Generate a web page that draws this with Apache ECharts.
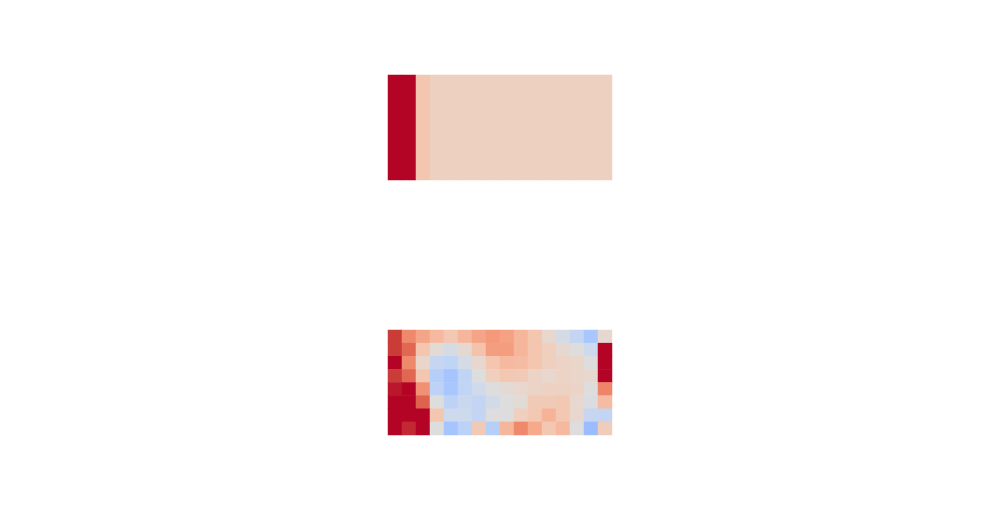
<!DOCTYPE html>
<html>
<head>
<meta charset="utf-8">
<script src="https://cdn.jsdelivr.net/npm/echarts@6/dist/echarts.min.js"></script>
<style>
  html, body { margin: 0; padding: 0; background: #fff; }
  #chart { width: 999px; height: 510px; }
</style>
</head>
<body>
<div id="chart"></div>
<script>
// значения, шкала -1..1 (coolwarm)
const columns = ['0', '1', '2', '3', '4', '5', '6', '7', '8', '9', '10', '11', '12', '13', '14', '15'];
const topRows = ['0'];
const bottomRows = ['0', '1', '2', '3', '4', '5', '6', '7'];

const topValues = [
    [1.3, 1.3, 0.24, 0.15, 0.15, 0.15, 0.15, 0.15, 0.15, 0.15, 0.15, 0.15, 0.15, 0.15, 0.15, 0.15]
];

const bottomValues = [
    [0.88, 0.58, 0.44, 0.32, 0.22, 0.34, 0.44, 0.50, 0.46, 0.34, 0.24, 0.08, -0.06, -0.18, -0.34, 0.06],
    [0.88, 0.72, 0.24, 0.04, -0.06, 0.06, 0.26, 0.48, 0.48, 0.34, 0.24, 0.16, 0.06, 0.00, -0.12, 1.3],
    [1.3, 0.58, 0.10, -0.16, -0.20, -0.06, 0.08, 0.24, 0.32, 0.30, 0.24, 0.16, 0.12, 0.10, 0.00, 1.3],
    [0.88, 0.72, 0.24, -0.26, -0.36, -0.20, 0.00, 0.16, 0.22, 0.20, 0.12, 0.08, 0.12, 0.10, 0.08, 1.3],
    [0.96, 1.3, 0.54, -0.22, -0.34, -0.20, -0.10, 0.00, 0.04, 0.08, 0.12, 0.14, 0.14, 0.12, 0.00, 0.60],
    [1.3, 1.3, 0.74, 0.00, -0.22, -0.14, -0.18, -0.08, 0.00, 0.04, 0.20, 0.20, 0.22, 0.08, -0.02, 0.30],
    [1.3, 1.3, 1.3, 0.24, -0.12, -0.12, -0.18, 0.00, 0.00, 0.16, 0.22, 0.36, 0.22, 0.08, -0.16, -0.18],
    [1.3, 0.92, 1.3, 0.00, -0.36, -0.24, 0.20, -0.26, 0.34, 0.58, 0.42, 0.22, 0.32, 0.00, -0.42, 0.18]
];

function toCells(values) {
    const cells = [];
    values.forEach((row, y) => {
        row.forEach((v, x) => cells.push([x, y, v]));
    });
    return cells;
}

const coolwarm = [
    '#3b4cc0', '#4d68d7', '#6282ea', '#779af7', '#8db0fe', '#a3c2ff',
    '#b8d0f9', '#ccd9ee', '#dddddd', '#ecd3c5', '#f5c4ad', '#f7b194',
    '#f49a7b', '#ec7f63', '#de604d', '#cb3e38', '#b40426'
];

const chart = echarts.init(document.getElementById('chart'), null, { renderer: 'canvas' });

const hiddenX = gi => ({
    type: 'category', gridIndex: gi, data: columns,
    axisLine: { show: false }, axisTick: { show: false }, axisLabel: { show: false },
    splitLine: { show: false }
});
const hiddenY = (gi, rows) => ({
    type: 'category', gridIndex: gi, data: rows, inverse: true,
    axisLine: { show: false }, axisTick: { show: false }, axisLabel: { show: false },
    splitLine: { show: false }
});

chart.setOption({
    backgroundColor: '#ffffff',
    animation: false,
    grid: [
        { left: 388, top: 75, width: 224, height: 105 },
        { left: 388, top: 330, width: 224, height: 105 }
    ],
    xAxis: [hiddenX(0), hiddenX(1)],
    yAxis: [hiddenY(0, topRows), hiddenY(1, bottomRows)],
    visualMap: {
        show: false,
        min: -1,
        max: 1,
        seriesIndex: [0, 1],
        inRange: { color: coolwarm },
        outOfRange: { color: '#b40426' }
    },
    series: [
        {
            type: 'heatmap', xAxisIndex: 0, yAxisIndex: 0,
            data: toCells(topValues),
            itemStyle: { borderWidth: 0 },
            emphasis: { disabled: true }
        },
        {
            type: 'heatmap', xAxisIndex: 1, yAxisIndex: 1,
            data: toCells(bottomValues),
            itemStyle: { borderWidth: 0 },
            emphasis: { disabled: true }
        }
    ]
});
</script>
</body>
</html>
